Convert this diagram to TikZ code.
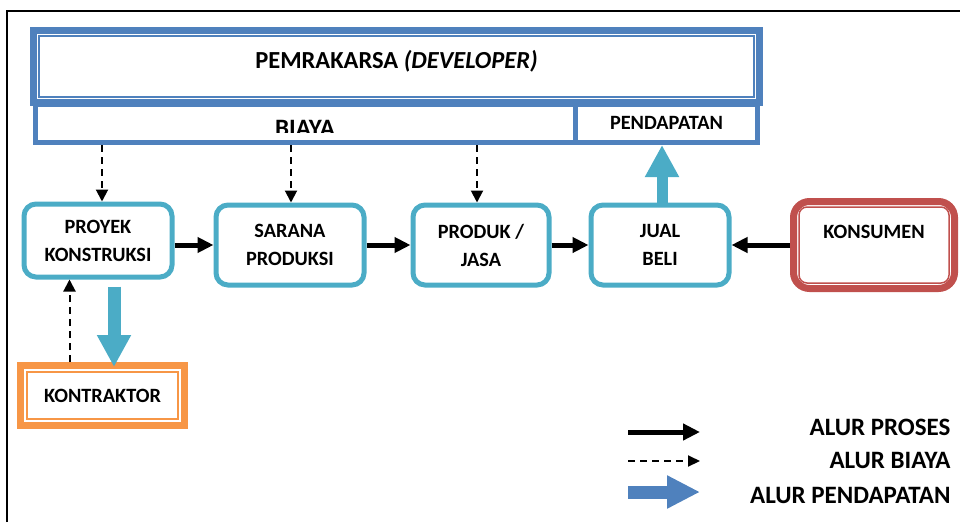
\documentclass[tikz,border=0pt]{standalone}
\usepackage{fontspec}
\setmainfont{Carlito}
\usetikzlibrary{arrows.meta,calc}

\tikzset{
  procbox/.style={draw=procblue, line width=5pt, rounded corners=12pt,
    align=center, inner sep=0pt, minimum height=80pt,
    font=\bfseries\fontsize{20.3}{28}\selectfont},
  framebox/.style={draw=devblue, line width=#1, inner sep=0pt},
  boxfont/.style={font=\bfseries\fontsize{#1}{28}\selectfont},
  procarrow/.style={line width=5pt, -{Triangle[length=16pt,width=15pt]}},
  costarrow/.style={line width=2pt, dash pattern=on 7pt off 5pt,
    -{Triangle[length=12pt,width=12pt]}},
  incomearrow/.style={draw=#1, line width=12pt,
    -{Triangle[length=32pt,width=32pt]}}
}

\begin{document}
\begin{tikzpicture}[x=1pt,y=-1pt]
  % Define colors
  \definecolor{devblue}{RGB}{79,129,189}
  \definecolor{procblue}{RGB}{75,172,198}
  \definecolor{consred}{RGB}{192,80,77}
  \definecolor{contorange}{RGB}{247,150,70}

  \useasboundingbox (0,0) rectangle (960,522);

  % Outer frame, only top and left edges show
  \draw[line width=1.5pt] (7,522) -- (7,11) -- (960,11);

  % Cost and income boxes under the developer
  \node[framebox=5pt, minimum width=540pt, minimum height=38.5pt] (biaya) at (305.5,123.25) {};
  \node[framebox=5pt, minimum width=182pt, minimum height=38.5pt, boxfont=20.3] (pendapatan) at (666.5,123.25) {PENDAPATAN};

  % BIAYA text is cut off at the bottom
  \begin{scope}
    \clip (biaya.north west) rectangle ($(biaya.south east)+(0,-13)$);
    \node[boxfont=25, anchor=base] (biayatext) at (305,136) {BIAYA};
  \end{scope}

  % Developer box with double border
  \node[framebox=7pt, minimum width=726pt, minimum height=72pt, text height=15pt,
    text depth=12pt, boxfont=24.5] (dev) at (396.5,66.5) {PEMRAKARSA \textit{(DEVELOPER)}};
  \draw[devblue, line width=1.5pt] ([shift={(9,9)}]dev.north west) rectangle ([shift={(-9,-9)}]dev.south east);

  % Process boxes
  \node[procbox, minimum width=148pt, minimum height=73pt] (proyek) at (98,240.5) {PROYEK\\KONSTRUKSI};
  \node[procbox, minimum width=148pt] (sarana) at (290,245) {SARANA\\PRODUKSI};
  \node[procbox, minimum width=136pt] (produk) at (481,245) {PRODUK /\\JASA};
  \node[procbox, minimum width=138pt] (jual) at (660,245) {JUAL\\BELI};

  % Consumer box
  \node[draw=consred, line width=7pt, rounded corners=16pt, minimum width=161pt,
    minimum height=87pt, inner sep=0pt, text height=13pt, text depth=27pt,
    boxfont=20.3] (konsumen) at (874,245) {KONSUMEN};
  \draw[consred, line width=1.5pt, rounded corners=8pt] ([shift={(9,9)}]konsumen.north west) rectangle ([shift={(-9,-9)}]konsumen.south east);

  % Contractor box
  \node[draw=contorange, line width=7pt, minimum width=164pt, minimum height=60pt,
    inner sep=0pt, boxfont=20.3] (kontraktor) at (102.5,395.5) {KONTRAKTOR};
  \draw[contorange, line width=1.5pt] ([shift={(10,10)}]kontraktor.north west) rectangle ([shift={(-10,-10)}]kontraktor.south east);

  % Process flow
  \foreach \from/\to in {proyek/sarana, sarana/produk, produk/jual} {
    \draw[procarrow] (\from.east |- \to.west) -- (\to.west);
  }
  \draw[procarrow] (konsumen.west) -- (jual.east);

  % Cost flow
  \foreach \target/\dx in {proyek/4, sarana/1, produk/-4} {
    \draw[costarrow] ([xshift=\dx pt]\target.north |- biaya.south) -- ([xshift=\dx pt]\target.north);
  }
  \draw[costarrow] ([xshift=-33pt]kontraktor.north) -- ([xshift=-33pt]kontraktor.north |- proyek.south);

  % Income flow
  \draw[incomearrow=procblue, line width=13pt] ($(proyek.south)+(16,7)$) -- ($(proyek.south |- kontraktor.north)+(16,5)$);
  \draw[incomearrow=procblue, line width=11pt] ([xshift=2pt]jual.north) -- ([xshift=2pt]jual.north |- pendapatan.south);

  % Legend
  \coordinate (procstart) at (628,432);
  \coordinate (procend) at (700,432);
  \coordinate (coststart) at (628,461);
  \coordinate (costend) at (700,461);
  \coordinate (incomestart) at (628,492);
  \coordinate (incomeend) at (700,492);
  \draw[line width=5pt, -{Triangle[length=17pt,width=16pt]}] (procstart) -- (procend);
  \draw[costarrow, -{Triangle[length=12pt,width=11pt]}] (coststart) -- (costend);
  \draw[incomearrow=devblue, line width=13pt, -{Triangle[length=33pt,width=31pt]}] (incomestart) -- (incomeend);
  \node[boxfont=25, anchor=base east] (procleg) at (954,435) {ALUR PROSES};
  \node[boxfont=25, anchor=base east] (costleg) at (954,468) {ALUR BIAYA};
  \node[boxfont=25, anchor=base east] (incomeleg) at (954,503) {ALUR PENDAPATAN};
\end{tikzpicture}
\end{document}
